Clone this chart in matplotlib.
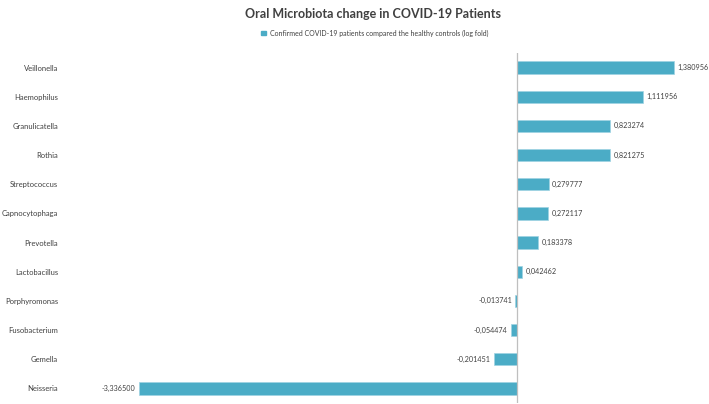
import matplotlib
matplotlib.use("Agg")
import matplotlib.pyplot as plt
from matplotlib.patches import Patch

categories = ["Veillonella", "Haemophilus", "Granulicatella", "Rothia", "Streptococcus",
              "Capnocytophaga", "Prevotella", "Lactobacillus", "Porphyromonas",
              "Fusobacterium", "Gemella", "Neisseria"]
values = [1.380956, 1.111956, 0.823274, 0.821275, 0.279777, 0.272117, 0.183378,
          0.042462, -0.013741, -0.054474, -0.201451, -3.336500]
series_name = "Confirmed COVID-19 patients compared the healthy controls (log fold)"
title = "Oral Microbiota change in COVID-19 Patients"

plt.rcParams['font.family'] = ['Lato', 'DejaVu Sans']
W, H = 709, 404
fig = plt.figure(figsize=(W / 100, H / 100), dpi=100)
left_px, right_px, top_px, bot_px = 65, 700, 53, 403
ax = fig.add_axes([left_px / W, 1 - bot_px / H, (right_px - left_px) / W, (bot_px - top_px) / H])

color = "#4BACC6"
y = list(range(len(categories)))
ax.barh(y, values, height=0.42, color=color, edgecolor="#9fd3e3", linewidth=0.5)
ax.set_ylim(len(categories) - 0.5, -0.5)
scale = 113.4
ax.set_xlim(-(517 - left_px) / scale, (right_px - 517) / scale)

for yi, v in zip(y, values):
    txt = f"{v:.6f}".replace(".", ",")
    if v >= 0:
        ax.annotate(txt, (v, yi), xytext=(2.5, 0), textcoords="offset points",
                    ha="left", va="center", fontsize=5.2, color="#404040")
    else:
        ax.annotate(txt, (v, yi), xytext=(-2.5, 0), textcoords="offset points",
                    ha="right", va="center", fontsize=5.2, color="#404040")

ax.set_yticks(y)
ax.set_yticklabels(categories, fontsize=5.5, color="#404040")
ax.tick_params(axis="y", length=0, pad=5)
ax.set_xticks([])
for s in ["top", "right", "bottom", "left"]:
    ax.spines[s].set_visible(False)
ax.axvline(0, color="#bfbfbf", linewidth=0.9)

fig.text(373 / W, 1 - 14 / H, title, ha="center", va="center", fontsize=9.0,
         fontweight="bold", color="#404040")
fig.legend(handles=[Patch(facecolor=color, edgecolor=color, label=series_name)],
           loc="center", bbox_to_anchor=(375 / W, 1 - 33 / H), frameon=False,
           fontsize=5.0, handlelength=0.7, handleheight=0.7, handletextpad=0.6,
           labelcolor="#404040")

fig.savefig("out.png", dpi=100, facecolor="white")
